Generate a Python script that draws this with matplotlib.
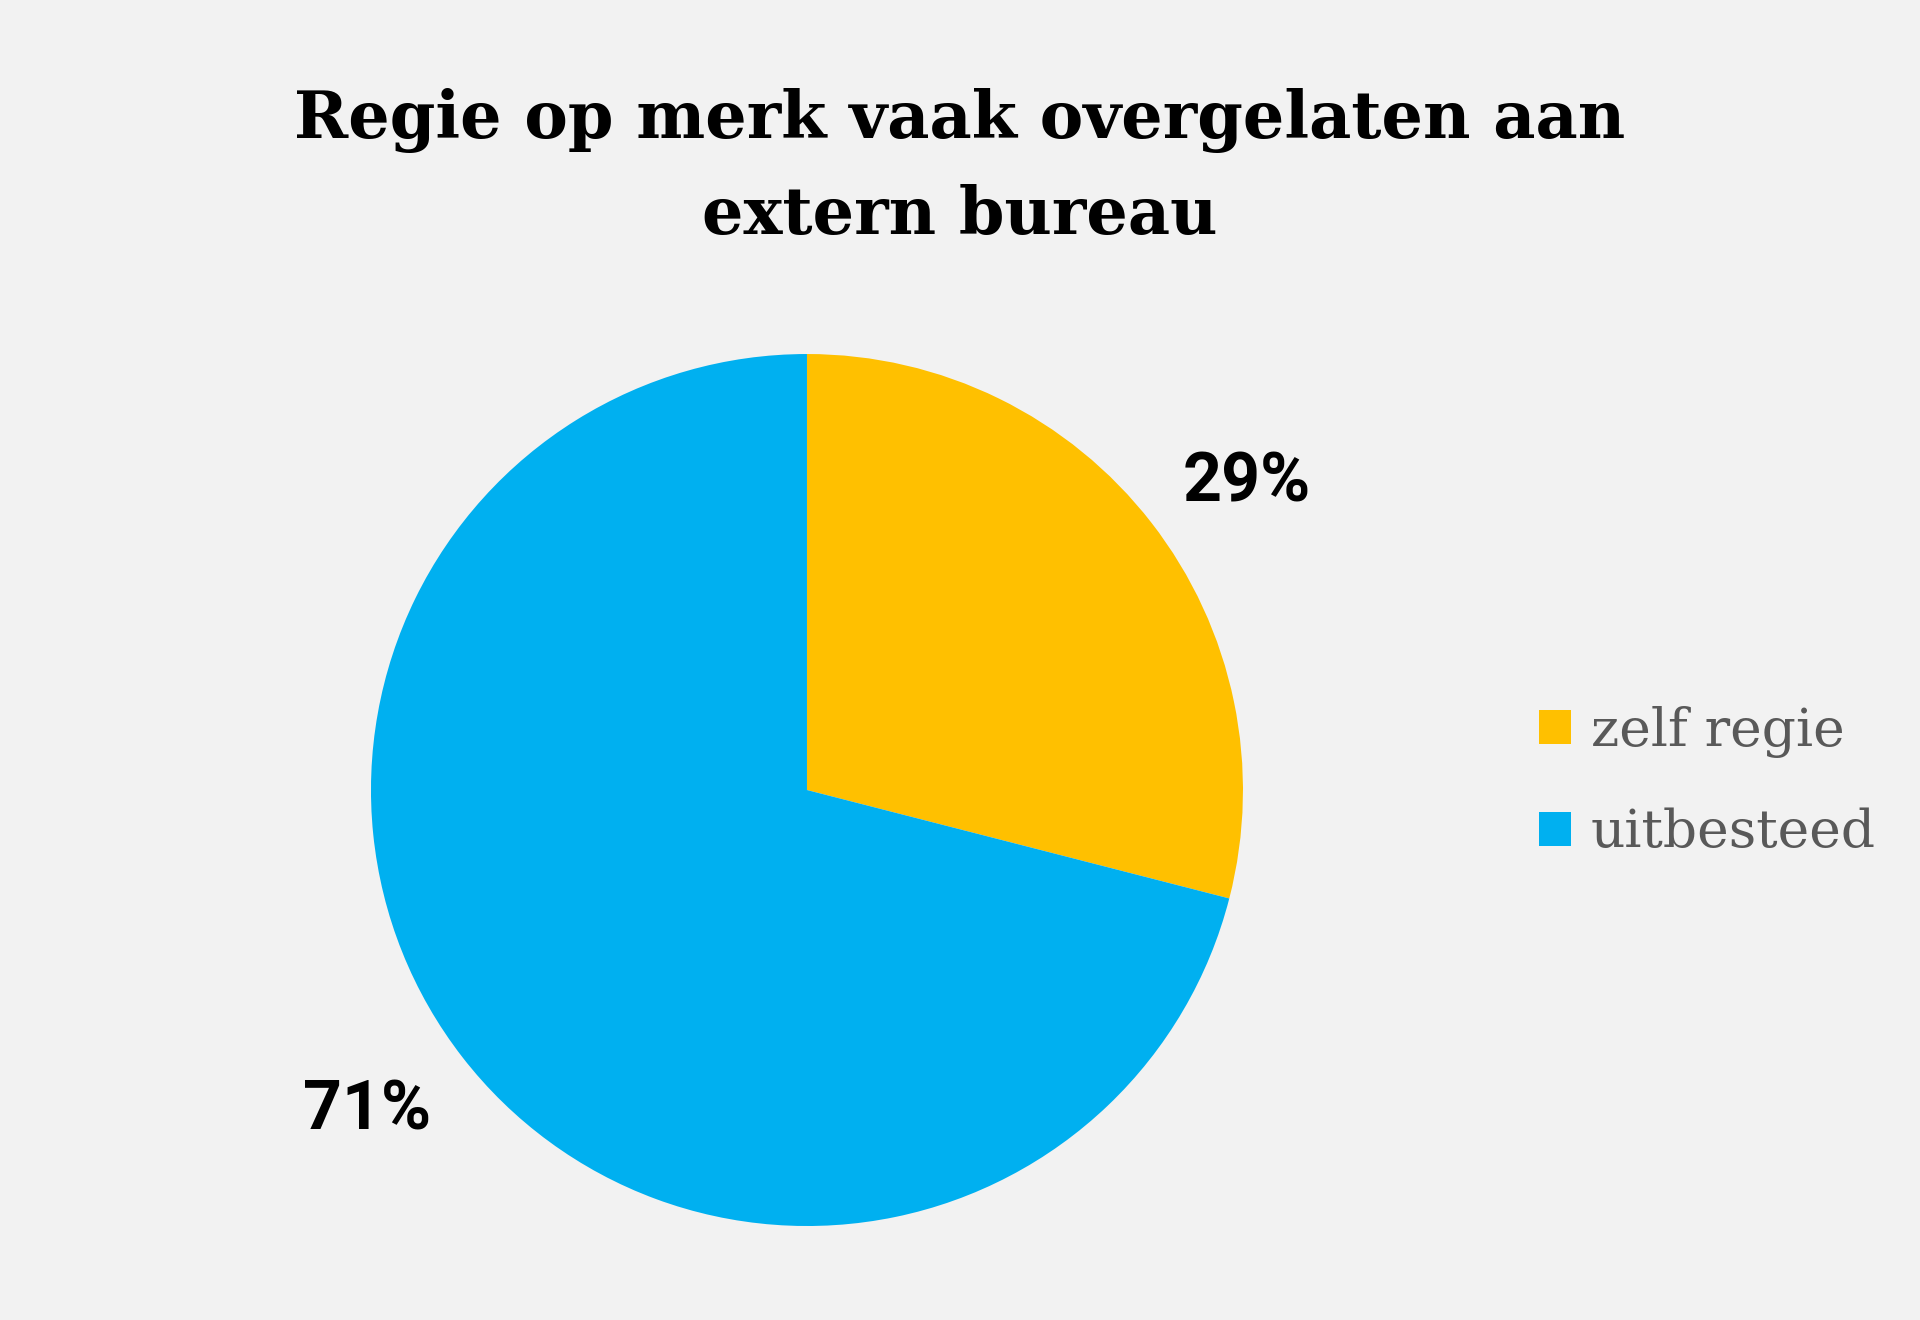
import numpy as np
import matplotlib
matplotlib.use("Agg")
import matplotlib.pyplot as plt
from matplotlib.patches import Patch

# data
labels = ["zelf regie", "uitbesteed"]
values = [29, 71]
colors = ["#FFC000", "#00B0F0"]
title = "Regie op merk vaak overgelaten aan\nextern bureau"

bg = "#F2F2F2"

fig = plt.figure(figsize=(19.2, 13.2), dpi=100, facecolor=bg)

# pie axes: centre (807, 790) px, radius 436 px
ax = fig.add_axes([0.4203 - 0.2271, 0.4015 - 0.3303, 0.4542, 0.6606])
ax.set_facecolor(bg)
wedges, texts, autotexts = ax.pie(
    values, colors=colors, startangle=90, counterclock=False,
    autopct="%1.0f%%", pctdistance=1.24, radius=1,
    textprops=dict(fontsize=49, fontweight="bold", family="Roboto", color="black"),
)
# labels sit a little clockwise of the slice middle
rot = np.deg2rad(-2.3)
for t in autotexts:
    x, y = t.get_position()
    t.set_position((x * np.cos(rot) - y * np.sin(rot),
                    x * np.sin(rot) + y * np.cos(rot) - 0.016))
ax.set_xlim(-1, 1)
ax.set_ylim(-1, 1)
ax.set_aspect("equal")
ax.axis("off")

fig.text(0.5, 0.873, title, ha="center", va="center", fontsize=47,
         fontweight="bold", family="DejaVu Serif", color="black", linespacing=1.62)

handles = [Patch(facecolor=c, edgecolor="none") for c in colors]
leg = fig.legend(handles, labels, loc="center left", bbox_to_anchor=(0.8016, 0.4075),
                 frameon=False, borderpad=0, borderaxespad=0,
                 handlelength=0.6, handleheight=0.6,
                 handletextpad=0.37, labelspacing=0.93,
                 prop=dict(family="DejaVu Serif", size=38.5))
for t in leg.get_texts():
    t.set_color("#595959")

fig.savefig("out.png", dpi=100, facecolor=bg)
